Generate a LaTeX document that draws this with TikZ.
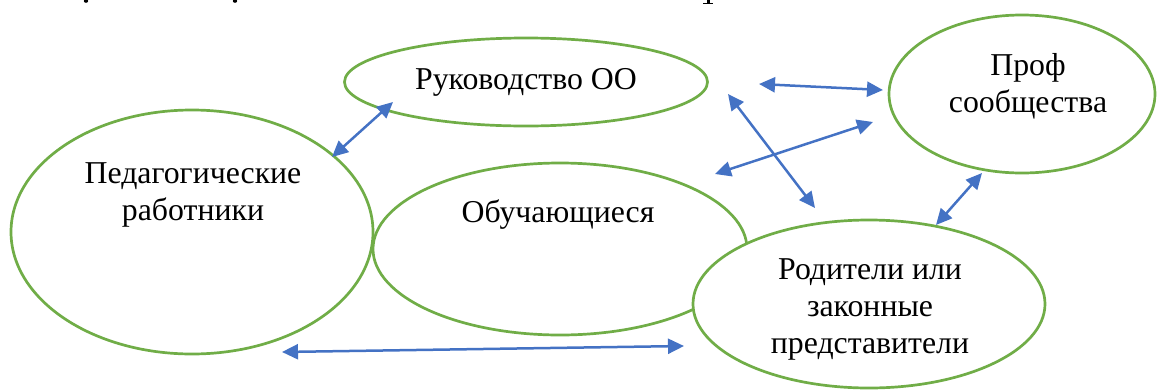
\documentclass[tikz,border=0pt]{standalone}
\usepackage{fontspec}
\setmainfont{Liberation Serif}
\usetikzlibrary{arrows.meta,shapes.geometric}
\definecolor{egreen}{HTML}{70AD47}
\definecolor{ablue}{HTML}{4472C4}
\tikzset{
  oval/.style={ellipse, draw=egreen, line width=2.7pt, fill=white, inner sep=0pt},
  lbl/.style={font=\fontsize{31.8}{37}\selectfont, align=center, anchor=base, inner sep=0pt},
  link/.style={draw=ablue, line width=2.5pt, {Triangle[length=16pt,width=15pt]}-{Triangle[length=16pt,width=15pt]}},
  frag/.style={fill=black, draw=none}
}
\begin{document}
\begin{tikzpicture}[x=1pt,y=-1pt]
\useasboundingbox (0,0) rectangle (1157,389);
% fragments of a cut-off line above
\fill[frag] (86,1) ellipse (2.2 and 1.8);
\fill[frag] (235,1) ellipse (2.2 and 1.8);
\fill[frag] (707,0) rectangle (709.5,3);
\fill[frag] (703,2.5) rectangle (713,3.6);
% ellipses
\node[oval, minimum width=362pt, minimum height=244pt] (ped) at (192,232) {};
\node[oval, minimum width=374pt, minimum height=172pt] (obu) at (560,249) {};
\node[oval, minimum width=352pt, minimum height=168pt] (rod) at (869,304) {};
\node[oval, minimum width=363pt, minimum height=88pt] (ruk) at (526,82) {};
\node[oval, minimum width=266pt, minimum height=158pt] (prof) at (1022,94) {};
% labels (base anchor = last line baseline)
\node[lbl] (tped) at (193,220) {Педагогические\\работники};
\node[lbl] (tobu) at (558,222) {Обучающиеся};
\node[lbl] (trod) at (870,353) {Родители или\\законные\\представители};
\node[lbl] (truk) at (526,89) {Руководство ОО};
\node[lbl] (tprof) at (1028,112) {Проф\\сообщества};
% arrow end points
\coordinate (a1) at (332,157); \coordinate (a2) at (393,102);
\coordinate (b1) at (759,84);  \coordinate (b2) at (883,90);
\coordinate (c1) at (728,94);  \coordinate (c2) at (815,208);
\coordinate (d1) at (715,174); \coordinate (d2) at (873,122);
\coordinate (e1) at (936,225); \coordinate (e2) at (982,173);
\coordinate (f1) at (282,352); \coordinate (f2) at (684,346);
\draw[link] (a1) -- (a2);
\draw[link] (b1) -- (b2);
\draw[link] (c1) -- (c2);
\draw[link] (d1) -- (d2);
\draw[link] (e1) -- (e2);
\draw[link] (f1) -- (f2);
\end{tikzpicture}
\end{document}
